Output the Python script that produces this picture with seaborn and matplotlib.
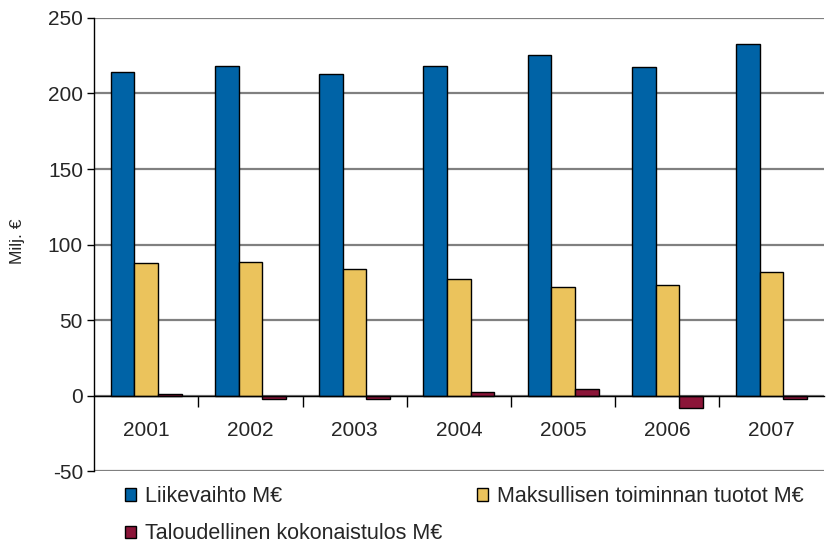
import pandas as pd
import matplotlib
matplotlib.use('Agg')
import matplotlib.pyplot as plt
import seaborn as sns

years = ['2001', '2002', '2003', '2004', '2005', '2006', '2007']
liikevaihto = [214, 218.5, 213, 218.5, 225.5, 217.5, 232.5]
maksullinen = [87.5, 88.5, 84, 77, 72, 73.5, 81.5]
tulos = [1, -2.5, -2.5, 2.2, 4.6, -8.5, -2.5]
series = ['Liikevaihto M€', 'Maksullisen toiminnan tuotot M€', 'Taloudellinen kokonaistulos M€']
colors = ['#0063A6', '#EBC35C', '#8B1538']

df = pd.DataFrame({
    'Vuosi': years * 3,
    'Arvo': liikevaihto + maksullinen + tulos,
    'Sarja': [series[0]] * 7 + [series[1]] * 7 + [series[2]] * 7,
})

sns.set_style('white')
plt.rcParams['font.family'] = ['Liberation Sans', 'DejaVu Sans']
plt.rcParams['axes.unicode_minus'] = False

fig = plt.figure(figsize=(8.27, 5.44), dpi=100)
ax = fig.add_axes([0.1137, 0.134, 0.996 - 0.1137, 0.967 - 0.134])

sns.barplot(data=df, x='Vuosi', y='Arvo', hue='Sarja', hue_order=series,
            palette=colors, width=0.68, edgecolor='black', linewidth=1,
            saturation=1, ax=ax, legend=True)

ax.set_ylim(-50, 250)
ax.set_xlim(-0.5, 6.5)
ax.set_yticks(range(-50, 251, 50))
ax.yaxis.grid(True, color='#808080', linewidth=1.6)
ax.set_axisbelow(True)
ax.tick_params(axis='y', labelsize=15, length=5, width=1, color='black',
               direction='out', left=True, pad=3)

# x axis at zero, tick marks between groups
ax.spines['bottom'].set_position(('data', 0))
ax.spines['bottom'].set_color('black')
ax.spines['bottom'].set_linewidth(1)
ax.spines['bottom'].set_zorder(5)
ax.spines['left'].set_color('black')
ax.spines['left'].set_linewidth(1)
ax.spines['top'].set_visible(False)
ax.spines['right'].set_visible(False)
ax.set_xticks([i + 0.5 for i in range(6)], minor=True)
ax.tick_params(axis='x', which='minor', length=8, width=1, color='black', direction='out', bottom=True)
ax.tick_params(axis='x', which='major', length=0, labelsize=15, pad=18)

ax.set_xlabel('')
ax.set_ylabel('Milj. €', fontsize=12.5)
ax.yaxis.set_label_coords(-0.094, 0.507)

handles, labels = ax.get_legend_handles_labels()
ax.get_legend().remove()
order = [0, 2, 1]
fig.legend([handles[i] for i in order], [labels[i] for i in order],
           loc='upper left', bbox_to_anchor=(0.151, 0.106), ncol=2, frameon=False,
           fontsize=15.5, handlelength=0.51, handleheight=0.51, handletextpad=0.42,
           labelspacing=0.75, columnspacing=1.63, borderaxespad=0, borderpad=0)

fig.savefig('out.png', dpi=100)
